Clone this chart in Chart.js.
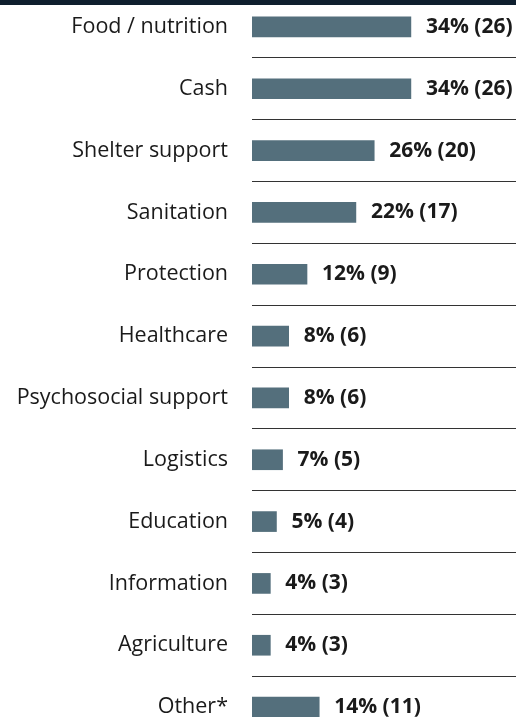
<!DOCTYPE html>
<html>
<head>
<meta charset="utf-8">
<script src="https://cdn.jsdelivr.net/npm/chart.js@4/dist/chart.umd.min.js"></script>
<style>
    html, body { margin: 0; padding: 0; background: #fff; overflow: hidden; }
    #wrap { position: relative; width: 516px; height: 717px; overflow: hidden; }
    #topbar { position: absolute; left: 0; top: 0; width: 516px; height: 5px; background: #0f1f2e; z-index: 2; }
    #chart { position: absolute; left: 0; top: -4px; }
</style>
</head>
<body>
<div id="wrap">
    <div id="topbar"></div>
    <canvas id="chart" width="516" height="742"></canvas>
</div>
<script>
const categories = ['Food / nutrition', 'Cash', 'Shelter support', 'Sanitation', 'Protection', 'Healthcare',
    'Psychosocial support', 'Logistics', 'Education', 'Information', 'Agriculture', 'Other*'];
const counts = [26, 26, 20, 17, 9, 6, 6, 5, 4, 3, 3, 11];
const percents = [34, 34, 26, 22, 12, 8, 8, 7, 5, 4, 4, 14];

const valueLabels = {
    id: 'valueLabels',
    afterDatasetsDraw: (chart) => {
        const ctx = chart.ctx;
        const meta = chart.getDatasetMeta(0);
        ctx.save();
        ctx.font = 'bold 21px "Open Sans"';
        ctx.fillStyle = '#1a1a1a';
        ctx.textBaseline = 'middle';
        ctx.textAlign = 'left';
        meta.data.forEach((bar, i) => {
            ctx.fillText(percents[i] + '% (' + counts[i] + ')', bar.x + 15, bar.y);
        });
        ctx.restore();
    }
};

new Chart(document.getElementById('chart'), {
    type: 'bar',
    data: {
        labels: categories,
        datasets: [{
            data: counts,
            backgroundColor: '#546f7c',
            barThickness: 20
        }]
    },
    plugins: [valueLabels],
    options: {
        indexAxis: 'y',
        responsive: false,
        animation: false,
        layout: { padding: 0 },
        scales: {
            x: { display: false, min: 0, max: 43.2 },
            y: {
                afterFit: (scale) => {
                    scale.width = 252;
                    scale.paddingTop = 0;
                    scale.paddingBottom = 0;
                },
                border: { display: false },
                grid: { color: '#333', lineWidth: 1, drawTicks: false, offset: true },
                ticks: {
                    padding: 24,
                    color: '#1a1a1a',
                    font: { family: '"Open Sans"', size: 21.5 }
                }
            }
        },
        plugins: {
            legend: { display: false },
            tooltip: { enabled: false }
        }
    }
});
</script>
</body>
</html>
